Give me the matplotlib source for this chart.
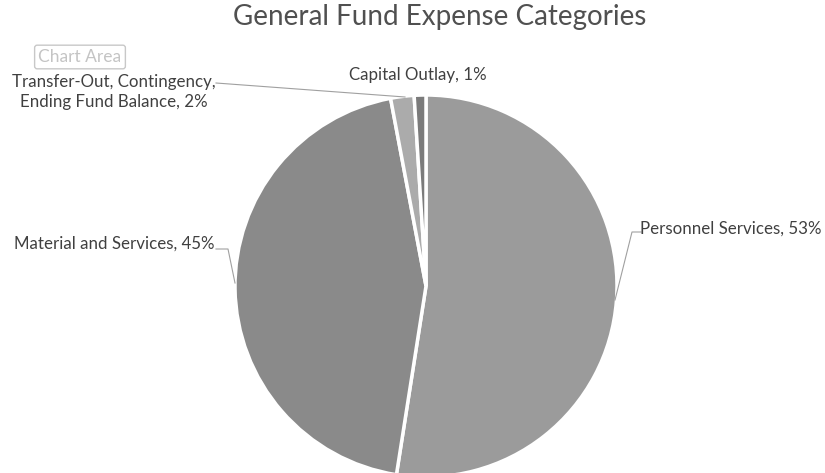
import matplotlib.pyplot as plt

# expense shares (percent of general fund)
categories = ["Personnel Services", "Material and Services",
              "Transfer-Out, Contingency,\nEnding Fund Balance", "Capital Outlay"]
shares = [53, 45, 2, 1]
colors = ["#9b9b9b", "#8a8a8a", "#ababab", "#7b7b7b"]

plt.rcParams['font.family'] = ['Lato', 'DejaVu Sans']

W, H = 825, 473
fig = plt.figure(figsize=(W / 100, H / 100), dpi=100)
ax = fig.add_axes([0, 0, 1, 1])

# pixel-like coordinates, y measured from the bottom
cx, cy, r = 426, H - 286, 191
wedges, _ = ax.pie(shares, colors=colors, startangle=90, counterclock=False,
                   center=(cx, cy), radius=r,
                   wedgeprops=dict(edgecolor="white", linewidth=2.5))
ax.set_xlim(0, W)
ax.set_ylim(0, H)
ax.set_aspect("equal")
ax.axis("off")

txt = "#404040"
fs = 12.2
ax.text(440, H - 17, "General Fund Expense Categories", ha="center", va="center",
        fontsize=20, color="#505050")

# hover tag left in the top corner
ax.text(80, H - 57, "Chart Area", ha="center", va="center", fontsize=12.5,
        color="#c4c4c4",
        bbox=dict(boxstyle="round,pad=0.22,rounding_size=0.15", fc="white",
                  ec="#c8c8c8", lw=1))

labels = [f"{c}, {s}%" for c, s in zip(categories, shares)]

ax.text(821, H - 229, labels[0], ha="right", va="center", fontsize=fs, color=txt)
ax.plot([641, 632, 615], [H - 232, H - 232, H - 300], color="#a0a0a0", lw=0.8)

ax.text(215, H - 244, labels[1], ha="right", va="center", fontsize=fs, color=txt)
ax.plot([216, 228, 235], [H - 249, H - 249, H - 283], color="#a0a0a0", lw=0.8)

ax.text(114, H - 92, labels[2], ha="center", va="center", fontsize=fs, color=txt,
        linespacing=1.3)
ax.plot([216, 405], [H - 83, H - 97], color="#a0a0a0", lw=0.8)

ax.text(418, H - 75, labels[3], ha="center", va="center", fontsize=fs, color=txt)

fig.savefig("out.png", dpi=100)
